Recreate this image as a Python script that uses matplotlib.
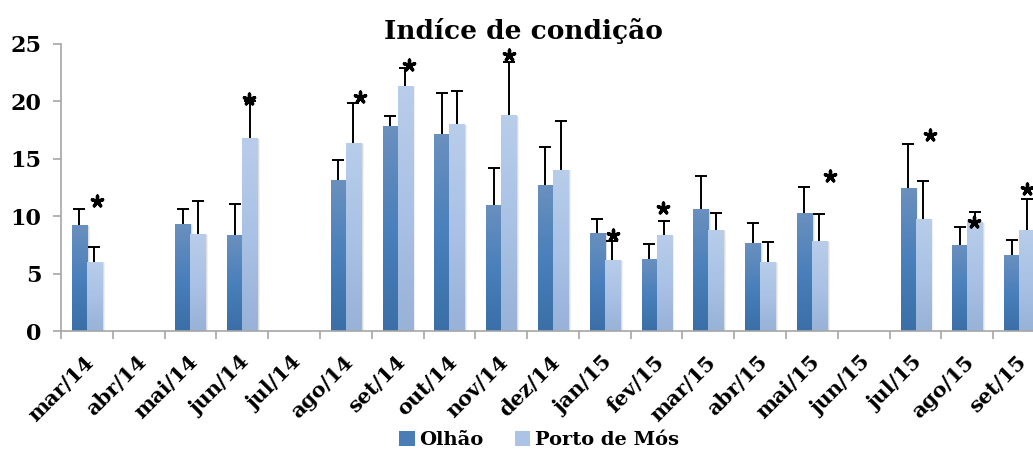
import numpy as np
import matplotlib
matplotlib.use("Agg")
import matplotlib.pyplot as plt
from matplotlib.colors import LinearSegmentedColormap
from matplotlib.patches import Rectangle
import matplotlib.transforms as mtransforms

# ---------------- data ----------------
categories = ["mar/14", "abr/14", "mai/14", "jun/14", "jul/14", "ago/14", "set/14",
              "out/14", "nov/14", "dez/14", "jan/15", "fev/15", "mar/15", "abr/15",
              "mai/15", "jun/15", "jul/15", "ago/15", "set/15"]
nan = np.nan
olhao = [9.26, nan, 9.35, 8.38, nan, 13.16, 17.82, 17.12, 11.0, 12.75, 8.56, 6.29,
         10.65, 7.69, 10.3, nan, 12.49, 7.5, 6.64]
olhao_sd = [1.34, nan, 1.30, 2.72, nan, 1.77, 0.87, 3.63, 3.18, 3.32, 1.22, 1.31,
            2.83, 1.74, 2.25, nan, 3.78, 1.52, 1.31]
porto = [6.03, nan, 8.47, 16.77, nan, 16.39, 21.31, 17.99, 18.78, 14.06, 6.2, 8.36,
         8.82, 6.03, 7.86, nan, 9.78, 9.46, 8.82]
porto_sd = [1.31, nan, 2.88, 3.23, nan, 3.49, 1.59, 2.91, 4.69, 4.25, 1.66, 1.24,
            1.43, 1.69, 2.30, nan, 3.26, 0.87, 2.68]
# significance stars: (category index, y position)
star_idx = [0, 3, 5, 6, 8, 10, 11, 14, 16, 17, 18]
star_y = [11.3, 20.2, 20.35, 23.2, 24.0, 8.4, 10.7, 13.5, 17.1, 9.46, 12.4]
star_dx = [0.19, 0.135, 0.27, 0.22, 0.155, 0.15, 0.13, 0.35, 0.28, 0.125, 0.16]
series_names = ["Olhão", "Porto de Mós"]
yticks = [0, 5, 10, 15, 20, 25]

# ---------------- style ----------------
FONT = "DejaVu Serif"
olhao_cmap = LinearSegmentedColormap.from_list(
    "o", ["#3a6fa7", "#4a80bb", "#6a90be"])
porto_cmap = LinearSegmentedColormap.from_list(
    "p", ["#98b2d8", "#a9c2e5", "#b8cdea"])
bar_w = 0.29

fig = plt.figure(figsize=(10.33, 4.5), dpi=100)
ax = fig.add_axes([61 / 1033, 119 / 450, 984 / 1033, 287 / 450])
ax.set_xlim(-0.5, len(categories) - 0.5)
ax.set_ylim(0, 25)

x = np.arange(len(categories))
grad = np.linspace(0, 1, 64).reshape(-1, 1)


def draw_bars(xpos, vals, cmap):
    for xi, v in zip(xpos, vals):
        if np.isnan(v):
            continue
        # shadow
        for k, a in [(3, 0.06), (2, 0.08), (1, 0.10)]:
            off = mtransforms.offset_copy(ax.transData, fig=fig, x=k * 0.9, y=-k * 0.3, units="dots")
            ax.add_patch(Rectangle((xi - bar_w / 2, 0), bar_w, v, transform=off,
                                   facecolor="black", alpha=a, lw=0, zorder=1))
        r = Rectangle((xi - bar_w / 2, 0), bar_w, v, facecolor="none", lw=0, zorder=2)
        ax.add_patch(r)
        im = ax.imshow(grad, cmap=cmap, aspect="auto", origin="lower",
                       extent=[xi - bar_w / 2, xi + bar_w / 2, 0, v], zorder=2,
                       interpolation="bilinear")
        im.set_clip_path(r)


draw_bars(x - bar_w / 2, olhao, olhao_cmap)
draw_bars(x + bar_w / 2, porto, porto_cmap)
ax.set_xlim(-0.5, len(categories) - 0.5)
ax.set_ylim(0, 25)
ax.set_aspect("auto")

zeros = np.zeros(len(categories))
for xs, vals, sd in [(x - bar_w / 2, olhao, olhao_sd), (x + bar_w / 2, porto, porto_sd)]:
    eb = ax.errorbar(xs, vals, yerr=[zeros, sd], fmt="none", ecolor="black",
                     elinewidth=1.4, capsize=4.3, capthick=1.4, zorder=3)
    eb[1][0].set_visible(False)  # hide lower caps

sx = [i + d for i, d in zip(star_idx, star_dx)]
ax.scatter(sx, star_y, marker=(5, 2, 0), s=60, color="black", linewidths=2.4,
           zorder=4, clip_on=False)

# axes styling
for s in ["top", "right"]:
    ax.spines[s].set_visible(False)
for s in ["left", "bottom"]:
    ax.spines[s].set_color("#a6a6a6")
    ax.spines[s].set_linewidth(1.2)
ax.set_yticks(yticks)
ax.set_yticklabels([str(t) for t in yticks], fontfamily=FONT, fontweight="bold", fontsize=16)
ax.tick_params(axis="y", length=6, color="#a6a6a6", width=1.2, pad=8)
ax.set_xticks(x)
ax.set_xticklabels(categories, rotation=45, ha="right", rotation_mode="anchor",
                   fontfamily=FONT, fontweight="bold", fontsize=15)
ax.tick_params(axis="x", which="major", length=0, pad=15)
shift = mtransforms.ScaledTranslation(-3 / 100, 0, fig.dpi_scale_trans)
for lab in ax.get_xticklabels():
    lab.set_transform(lab.get_transform() + shift)
ax.set_xticks(np.arange(-0.5, len(categories) + 0.5, 1), minor=True)
ax.tick_params(axis="x", which="minor", length=6, color="#a6a6a6", width=1.2)

fig.text(0.507, 0.932, "Indíce de condição", ha="center", va="center",
         fontfamily=FONT, fontweight="bold", fontsize=19)

handles = [Rectangle((0, 0), 1, 1, facecolor="#4a7db5"),
           Rectangle((0, 0), 1, 1, facecolor="#abc3e4")]
fig.legend(handles, series_names, loc="center", bbox_to_anchor=(0.522, 0.022),
           ncol=2, frameon=False, handlelength=0.8, handleheight=0.8,
           handletextpad=0.25, columnspacing=1.6,
           prop={"family": FONT, "weight": "bold", "size": 14})

fig.savefig("out.png", dpi=100)
